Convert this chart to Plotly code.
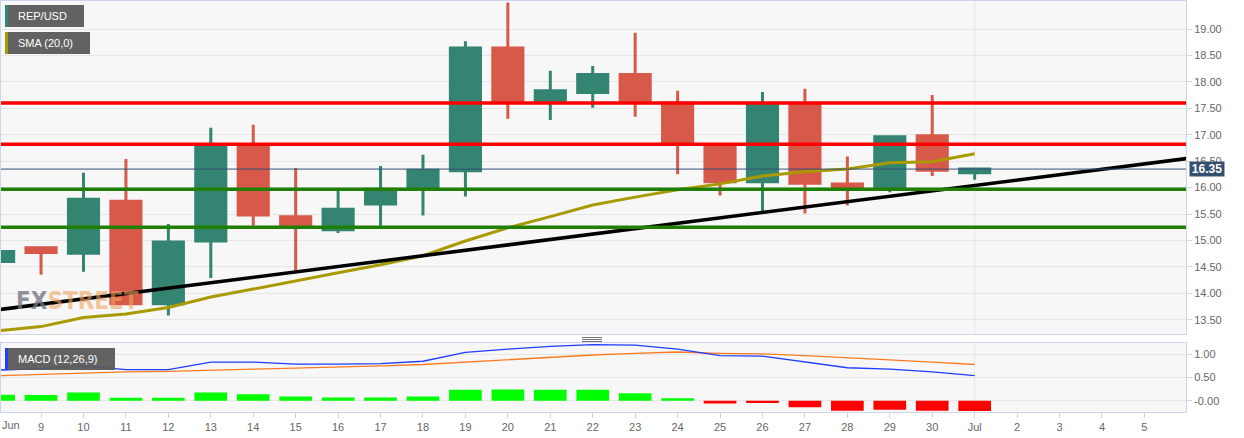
import plotly.graph_objects as go

# ---------------- data ----------------
dates = ["2020-06-08", "2020-06-09", "2020-06-10", "2020-06-11", "2020-06-12", "2020-06-13",
         "2020-06-14", "2020-06-15", "2020-06-16", "2020-06-17", "2020-06-18", "2020-06-19",
         "2020-06-20", "2020-06-21", "2020-06-22", "2020-06-23", "2020-06-24", "2020-06-25",
         "2020-06-26", "2020-06-27", "2020-06-28", "2020-06-29", "2020-06-30", "2020-07-01"]

open_ = [14.60, 14.86, 14.76, 15.74, 13.80, 14.99, 16.81, 15.45, 15.20, 15.69, 15.97, 16.32,
         18.64, 17.64, 17.80, 18.14, 17.60, 16.80, 16.11, 17.58, 16.07, 15.98, 16.98, 16.28]
high = [15.30, 14.89, 16.28, 16.54, 15.31, 17.13, 17.19, 16.37, 15.97, 16.41, 16.62, 18.77,
        19.50, 18.21, 18.30, 18.93, 17.83, 16.82, 17.81, 17.87, 16.59, 16.97, 17.75, 16.35]
low = [14.55, 14.35, 14.41, 13.79, 13.58, 14.29, 15.28, 14.43, 15.14, 15.26, 15.47, 15.83,
       17.30, 17.28, 17.51, 17.34, 16.25, 15.85, 15.55, 15.51, 15.66, 15.91, 16.22, 16.15]
close = [14.79, 14.77, 15.78, 13.80, 14.97, 16.81, 15.48, 15.28, 15.59, 15.97, 16.33, 18.64,
         17.64, 17.83, 18.14, 17.63, 16.84, 16.11, 17.58, 16.08, 15.98, 16.96, 16.33, 16.35]

sma20 = [13.29, 13.37, 13.54, 13.61, 13.73, 13.93, 14.08, 14.24, 14.39, 14.54, 14.71, 14.99,
         15.24, 15.45, 15.67, 15.82, 15.96, 16.07, 16.22, 16.30, 16.35, 16.47, 16.49, 16.64]

macd_line = [0.66, 0.69, 0.75, 0.67, 0.67, 0.83, 0.83, 0.79, 0.79, 0.80, 0.85, 1.04,
             1.11, 1.17, 1.21, 1.20, 1.11, 0.97, 0.96, 0.84, 0.71, 0.68, 0.62, 0.54]
signal_line = [0.54, 0.57, 0.60, 0.62, 0.63, 0.66, 0.68, 0.70, 0.72, 0.75, 0.78, 0.83,
               0.88, 0.94, 0.985, 1.02, 1.05, 1.02, 1.01, 0.97, 0.93, 0.88, 0.83, 0.78]
macd_hist = [0.125, 0.12, 0.175, 0.06, 0.06, 0.175, 0.14, 0.09, 0.07, 0.07, 0.09, 0.235,
             0.24, 0.235, 0.235, 0.16, 0.05, -0.06, -0.05, -0.145, -0.22, -0.195, -0.22, -0.225]

resistance_levels = [17.60, 16.82]
support_levels = [15.97, 15.25]
last_price = 16.35
trend_dates = ["2020-06-08", "2020-07-06"]
trend_values = [13.69, 16.55]

x_range = ["2020-06-08 01:21", "2020-07-05 23:31"]
tick_dates = ["2020-06-09", "2020-06-10", "2020-06-11", "2020-06-12", "2020-06-13", "2020-06-14",
              "2020-06-15", "2020-06-16", "2020-06-17", "2020-06-18", "2020-06-19", "2020-06-20",
              "2020-06-21", "2020-06-22", "2020-06-23", "2020-06-24", "2020-06-25", "2020-06-26",
              "2020-06-27", "2020-06-28", "2020-06-29", "2020-06-30", "2020-07-01", "2020-07-02",
              "2020-07-03", "2020-07-04", "2020-07-05"]
tick_labels = ["9", "10", "11", "12", "13", "14", "15", "16", "17", "18", "19", "20", "21", "22",
               "23", "24", "25", "26", "27", "28", "29", "30", "Jul", "2", "3", "4", "5"]
first_month_label = "Jun"
price_ticks = [13.5, 14.0, 14.5, 15.0, 15.5, 16.0, 16.5, 17.0, 17.5, 18.0, 18.5, 19.0]
macd_ticks = [0.0, 0.5, 1.0]
macd_tick_labels = ["-0.00", "0.50", "1.00"]
today = "2020-07-01"

# ---------------- styles ----------------
GREEN = "#348472"
RED = "#d6594a"
OLIVE = "#a99a00"
AXIS = "#ccd6eb"
GRID = "#e6e6e6"
FONT = "Liberation Sans, Arial, sans-serif"
W, H = 1244, 438
ML, MR, MT, MB = 1, 58, 1, 26
PW, PH = W - ML - MR, H - MT - MB


def fx(p):
    return (p - ML) / PW


def fy(p):
    return (H - MB - p) / PH


fig = go.Figure()

fig.add_trace(go.Candlestick(
    x=dates, open=open_, high=high, low=low, close=close,
    increasing=dict(line=dict(color=GREEN, width=3), fillcolor=GREEN),
    decreasing=dict(line=dict(color=RED, width=3), fillcolor=RED),
    whiskerwidth=0, xaxis="x", yaxis="y", hoverinfo="skip", showlegend=False))

fig.add_trace(go.Scatter(x=dates, y=sma20, mode="lines", line=dict(color=OLIVE, width=3),
                         xaxis="x", yaxis="y", hoverinfo="skip", showlegend=False))
fig.add_trace(go.Scatter(x=trend_dates, y=trend_values, mode="lines",
                         line=dict(color="#000000", width=3.5),
                         xaxis="x", yaxis="y", hoverinfo="skip", showlegend=False))

hist_colors = ["#00ff00" if v >= 0 else "#ff0000" for v in macd_hist]
fig.add_trace(go.Bar(x=dates, y=macd_hist, marker=dict(color=hist_colors, line=dict(width=0)),
                     xaxis="x2", yaxis="y2", hoverinfo="skip", showlegend=False))
fig.add_trace(go.Scatter(x=dates, y=signal_line, mode="lines", line=dict(color="#ff7a1f", width=1.3),
                         xaxis="x2", yaxis="y2", hoverinfo="skip", showlegend=False))
fig.add_trace(go.Scatter(x=dates, y=macd_line, mode="lines", line=dict(color="#1f3cff", width=1.3),
                         xaxis="x2", yaxis="y2", hoverinfo="skip", showlegend=False))

main_dom = [fy(334), 1]
macd_dom = [0, fy(343)]

fig.update_layout(
    width=W, height=H,
    margin=dict(l=ML, r=MR, t=MT, b=MB),
    paper_bgcolor="#ffffff", plot_bgcolor="#f7f7f7",
    font=dict(family=FONT, size=11, color="#666666"),
    showlegend=False, boxgap=0.29, boxgroupgap=0, bargap=0.23,
    xaxis=dict(domain=[0, 1], anchor="y", type="date", range=x_range, showticklabels=False,
               showgrid=False, showline=True, linecolor=AXIS, mirror=True, ticks="",
               rangeslider=dict(visible=False), fixedrange=True),
    xaxis2=dict(domain=[0, 1], anchor="y2", type="date", range=x_range, matches="x",
                tickvals=tick_dates, ticktext=tick_labels, showgrid=False, showline=True,
                linecolor=AXIS, mirror=True, ticks="outside", ticklen=5, tickcolor=AXIS,
                tickfont=dict(size=11, color="#666666")),
    yaxis=dict(domain=main_dom, anchor="x", side="right", range=[13.23, 19.53],
               tickvals=price_ticks, tickformat=".2f", showgrid=True, gridcolor=GRID,
               showline=True, linecolor=AXIS, mirror=True, ticks="outside", ticklen=5,
               tickcolor=AXIS, zeroline=False, tickfont=dict(size=11, color="#666666")),
    yaxis2=dict(domain=macd_dom, anchor="x2", side="right", range=[-0.245, 1.244],
                tickvals=macd_ticks, ticktext=macd_tick_labels, showgrid=True, gridcolor=GRID,
                showline=True, linecolor=AXIS, mirror=True, ticks="outside", ticklen=5,
                tickcolor=AXIS, zeroline=False, tickfont=dict(size=11, color="#666666")),
)

shapes = []
# "today" vertical lines
shapes.append(dict(type="line", xref="x", yref="y domain", x0=today, x1=today, y0=0, y1=1,
                   line=dict(color=GRID, width=1), layer="below"))
shapes.append(dict(type="line", xref="x2", yref="y2 domain", x0=today, x1=today, y0=0, y1=1,
                   line=dict(color=GRID, width=1), layer="below"))
# level lines
for lv in resistance_levels:
    shapes.append(dict(type="line", xref="x domain", yref="y", x0=0, x1=1, y0=lv, y1=lv,
                       line=dict(color="#ff0000", width=3.5)))
for lv in support_levels:
    shapes.append(dict(type="line", xref="x domain", yref="y", x0=0, x1=1, y0=lv, y1=lv,
                       line=dict(color="#1f7f00", width=3.5)))
shapes.append(dict(type="line", xref="x domain", yref="y", x0=0, x1=1, y0=last_price, y1=last_price,
                   line=dict(color="#34507a", width=1)))

# label boxes
def box(x0, x1, y0, y1, stripe):
    shapes.append(dict(type="rect", xref="paper", yref="paper", x0=fx(x0), x1=fx(x1),
                       y0=fy(y1), y1=fy(y0), fillcolor="rgba(90,90,90,0.95)", line=dict(width=0)))
    shapes.append(dict(type="rect", xref="paper", yref="paper", x0=fx(x0), x1=fx(x0 + 3),
                       y0=fy(y1), y1=fy(y0), fillcolor=stripe, line=dict(width=0)))

box(5, 84, 5, 27, GREEN)
box(5, 90, 32, 54, OLIVE)
box(5, 115, 348, 370, "#1f3cff")

# splitter handle
for yy in [337.5, 339.5, 341.5]:
    shapes.append(dict(type="line", xref="paper", yref="paper", x0=fx(582), x1=fx(602),
                       y0=fy(yy), y1=fy(yy), line=dict(color="#777777", width=1)))

fig.update_layout(shapes=shapes)

ann = []
for txt, yc in [("REP/USD", 16), ("SMA (20,0)", 43), ("MACD (12,26,9)", 359)]:
    ann.append(dict(text=txt, xref="paper", yref="paper", x=fx(16), y=fy(yc), xanchor="left",
                    yanchor="middle", showarrow=False, font=dict(color="#ffffff", size=11, family=FONT)))
ann.append(dict(text="<b>16.35</b>", xref="paper", yref="y", x=fx(1207), y=last_price,
                xanchor="center", yanchor="middle", showarrow=False, bgcolor="#34506f",
                width=34, height=14, borderpad=0, font=dict(color="#ffffff", size=12, family=FONT)))
ann.append(dict(text=first_month_label, xref="paper", yref="paper", x=fx(0), y=fy(417),
                xanchor="left", yanchor="top", showarrow=False,
                font=dict(color="#666666", size=11, family=FONT)))
ann.append(dict(text='<b><span style="color:rgba(115,118,126,0.8)">FX</span>'
                     '<span style="color:rgba(240,165,95,0.6)">STREET</span></b>',
                xref="paper", yref="paper", x=fx(14), y=fy(301), xanchor="left", yanchor="middle",
                showarrow=False,
                font=dict(size=24, family="Liberation Sans Narrow, DejaVu Sans Condensed, Arial Narrow, sans-serif")))
fig.update_layout(annotations=ann)

fig.write_html("out.html", config={"displayModeBar": False},
               post_script="document.body.style.margin='0px';")
